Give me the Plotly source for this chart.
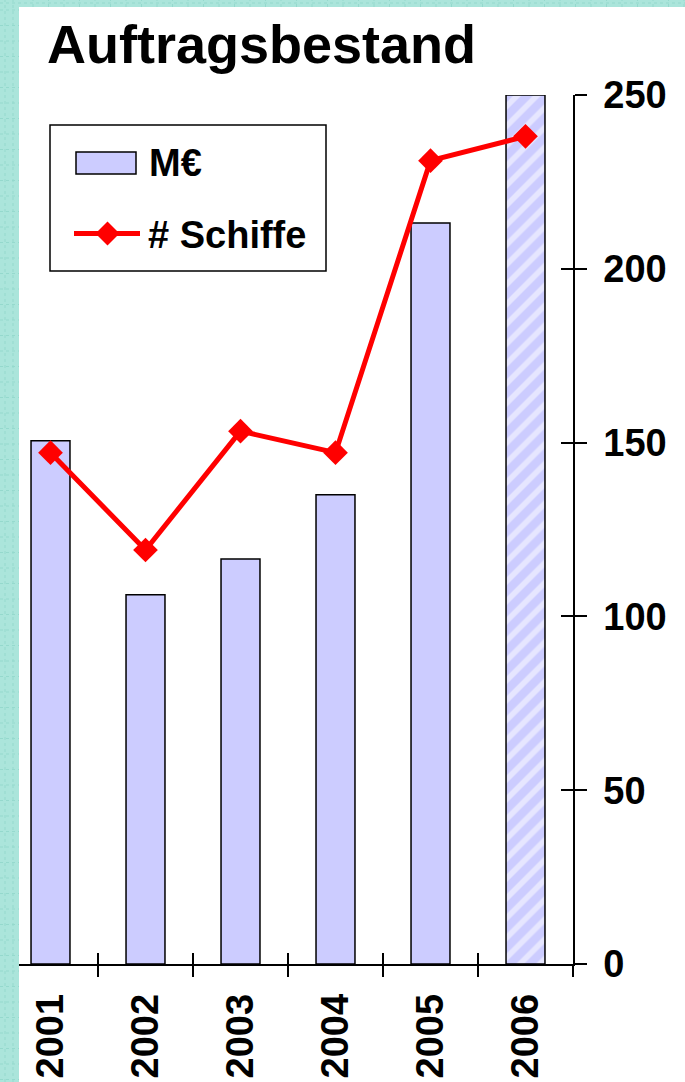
import plotly.graph_objects as go

# ---- data ----
years = ["2001", "2002", "2003", "2004", "2005", "2006"]
mio_eur = [150.5, 106.2, 116.5, 135.0, 213.2, 250.0]
schiffe = [147.1, 119.1, 153.3, 147.1, 231.1, 238.1]
bar_patterns = ["", "", "", "", "", "/"]
y_ticks = [0, 50, 100, 150, 200, 250]
title_text = "Auftragsbestand"
legend_labels = ["M€", "# Schiffe"]

W, H = 685, 1082
ML, MR, MT, MB = 3, 112, 95, 118
PW = W - ML - MR
PH = H - MT - MB


def px(x):
    return (x - ML) / PW


def py(y):
    return (H - MB - y) / PH


FONT = "Liberation Sans, Arial, sans-serif"
BAR_COLOR = "#CCCCFF"
RED = "#FF0000"
TEAL = "#ABE5DB"
TEAL_DOT = "#95D9CD"

fig = go.Figure()

fig.add_trace(go.Bar(
    x=years, y=mio_eur, width=0.41,
    marker=dict(color=BAR_COLOR, line=dict(color="black", width=1.5),
                pattern=dict(shape=bar_patterns, fgcolor="white", bgcolor=BAR_COLOR,
                             size=14, solidity=0.4)),
    showlegend=False, name=legend_labels[0],
))

fig.add_trace(go.Scatter(
    x=years, y=schiffe, mode="lines+markers",
    line=dict(color=RED, width=5),
    marker=dict(symbol="diamond", size=19, color=RED),
    showlegend=False, name=legend_labels[1],
))

# invisible helper trace for overlay axes (inside ticks)
fig.add_trace(go.Scatter(x=years, y=mio_eur, xaxis="x2", yaxis="y2",
                         mode="markers", marker=dict(opacity=0), showlegend=False,
                         hoverinfo="skip"))

tickfont = dict(family=FONT, size=38, color="black", weight="bold")

fig.update_layout(
    width=W, height=H,
    margin=dict(l=ML, r=MR, t=MT, b=MB),
    paper_bgcolor="white", plot_bgcolor="rgba(0,0,0,0)",
    xaxis=dict(type="category", categoryarray=years, range=[-0.5, 5.5],
               showline=True, linecolor="black", linewidth=1.5,
               ticks="outside", ticklen=11, tickwidth=1.5, tickcolor="black",
               tickson="boundaries", tickangle=-90, tickfont=tickfont,
               ticklabelstandoff=13, showgrid=False, zeroline=False),
    yaxis=dict(range=[0, 250], tickvals=y_ticks, side="right",
               showline=True, linecolor="black", linewidth=1.5,
               ticks="outside", ticklen=12, tickwidth=1.5, tickcolor="black",
               tickfont=tickfont, ticklabelstandoff=9,
               showgrid=False, zeroline=False),
    xaxis2=dict(type="category", categoryarray=years, range=[-0.5, 5.5],
                overlaying="x", anchor="y", side="bottom",
                ticks="inside", ticklen=11, tickwidth=1.5, tickcolor="black",
                tickson="boundaries", showticklabels=False, showline=False,
                showgrid=False, zeroline=False),
    yaxis2=dict(range=[0, 250], tickvals=y_ticks, overlaying="y", anchor="x", side="right",
                ticks="inside", ticklen=12, tickwidth=1.5, tickcolor="black",
                showticklabels=False, showline=False, showgrid=False, zeroline=False),
    showlegend=False,
)

shapes = []
# teal frame strips (left and top)
shapes.append(dict(type="rect", xref="paper", yref="paper",
                   x0=px(-5), x1=px(19), y0=py(H + 5), y1=py(-5),
                   fillcolor=TEAL, line=dict(width=0), layer="above"))
shapes.append(dict(type="rect", xref="paper", yref="paper",
                   x0=px(-5), x1=px(W + 5), y0=py(7), y1=py(-5),
                   fillcolor=TEAL, line=dict(width=0), layer="above"))
# dotted texture
for xx in (5, 13):
    shapes.append(dict(type="line", xref="paper", yref="paper",
                       x0=px(xx), x1=px(xx), y0=py(H), y1=py(0),
                       line=dict(color=TEAL_DOT, width=1, dash="dot"), layer="above"))
yy = 10.0
while yy < H:
    shapes.append(dict(type="line", xref="paper", yref="paper",
                       x0=px(0), x1=px(19), y0=py(yy), y1=py(yy),
                       line=dict(color=TEAL_DOT, width=1, dash="dot"), layer="above"))
    yy += 15.5
shapes.append(dict(type="line", xref="paper", yref="paper",
                   x0=px(0), x1=px(W), y0=py(3), y1=py(3),
                   line=dict(color=TEAL_DOT, width=1, dash="dot"), layer="above"))
xx = 33.0
while xx < W:
    shapes.append(dict(type="line", xref="paper", yref="paper",
                       x0=px(xx), x1=px(xx), y0=py(7), y1=py(0),
                       line=dict(color=TEAL_DOT, width=1, dash="dot"), layer="above"))
    xx += 15.5

# legend box
shapes.append(dict(type="rect", xref="paper", yref="paper",
                   x0=px(50), x1=px(326), y0=py(271), y1=py(125),
                   fillcolor="white", line=dict(color="black", width=1.5), layer="above"))
# bar swatch
shapes.append(dict(type="rect", xref="paper", yref="paper",
                   x0=px(76), x1=px(136), y0=py(174), y1=py(152),
                   fillcolor=BAR_COLOR, line=dict(color="black", width=1.5), layer="above"))
# line swatch
shapes.append(dict(type="line", xref="paper", yref="paper",
                   x0=px(74), x1=px(140), y0=py(233.5), y1=py(233.5),
                   line=dict(color=RED, width=5), layer="above"))
cx, cy, r = 107.5, 233.5, 12
shapes.append(dict(type="path", xref="paper", yref="paper",
                   path=f"M {px(cx - r)} {py(cy)} L {px(cx)} {py(cy - r)} L {px(cx + r)} {py(cy)} L {px(cx)} {py(cy + r)} Z",
                   fillcolor=RED, line=dict(width=0), layer="above"))

fig.update_layout(shapes=shapes)

legfont = dict(family=FONT, size=38, color="black", weight="bold")
fig.add_annotation(text=title_text, xref="paper", yref="paper",
                   x=px(45), y=py(44), xanchor="left", yanchor="middle",
                   showarrow=False,
                   font=dict(family=FONT, size=54, color="black", weight="bold"))
fig.add_annotation(text=legend_labels[0], xref="paper", yref="paper",
                   x=px(147), y=py(163), xanchor="left", yanchor="middle",
                   showarrow=False, font=legfont)
fig.add_annotation(text=legend_labels[1], xref="paper", yref="paper",
                   x=px(146), y=py(235), xanchor="left", yanchor="middle",
                   showarrow=False, font=legfont)

fig.write_html("out.html",
               config={"displayModeBar": False},
               post_script="document.body.style.margin='0px';document.body.style.overflow='hidden';")
